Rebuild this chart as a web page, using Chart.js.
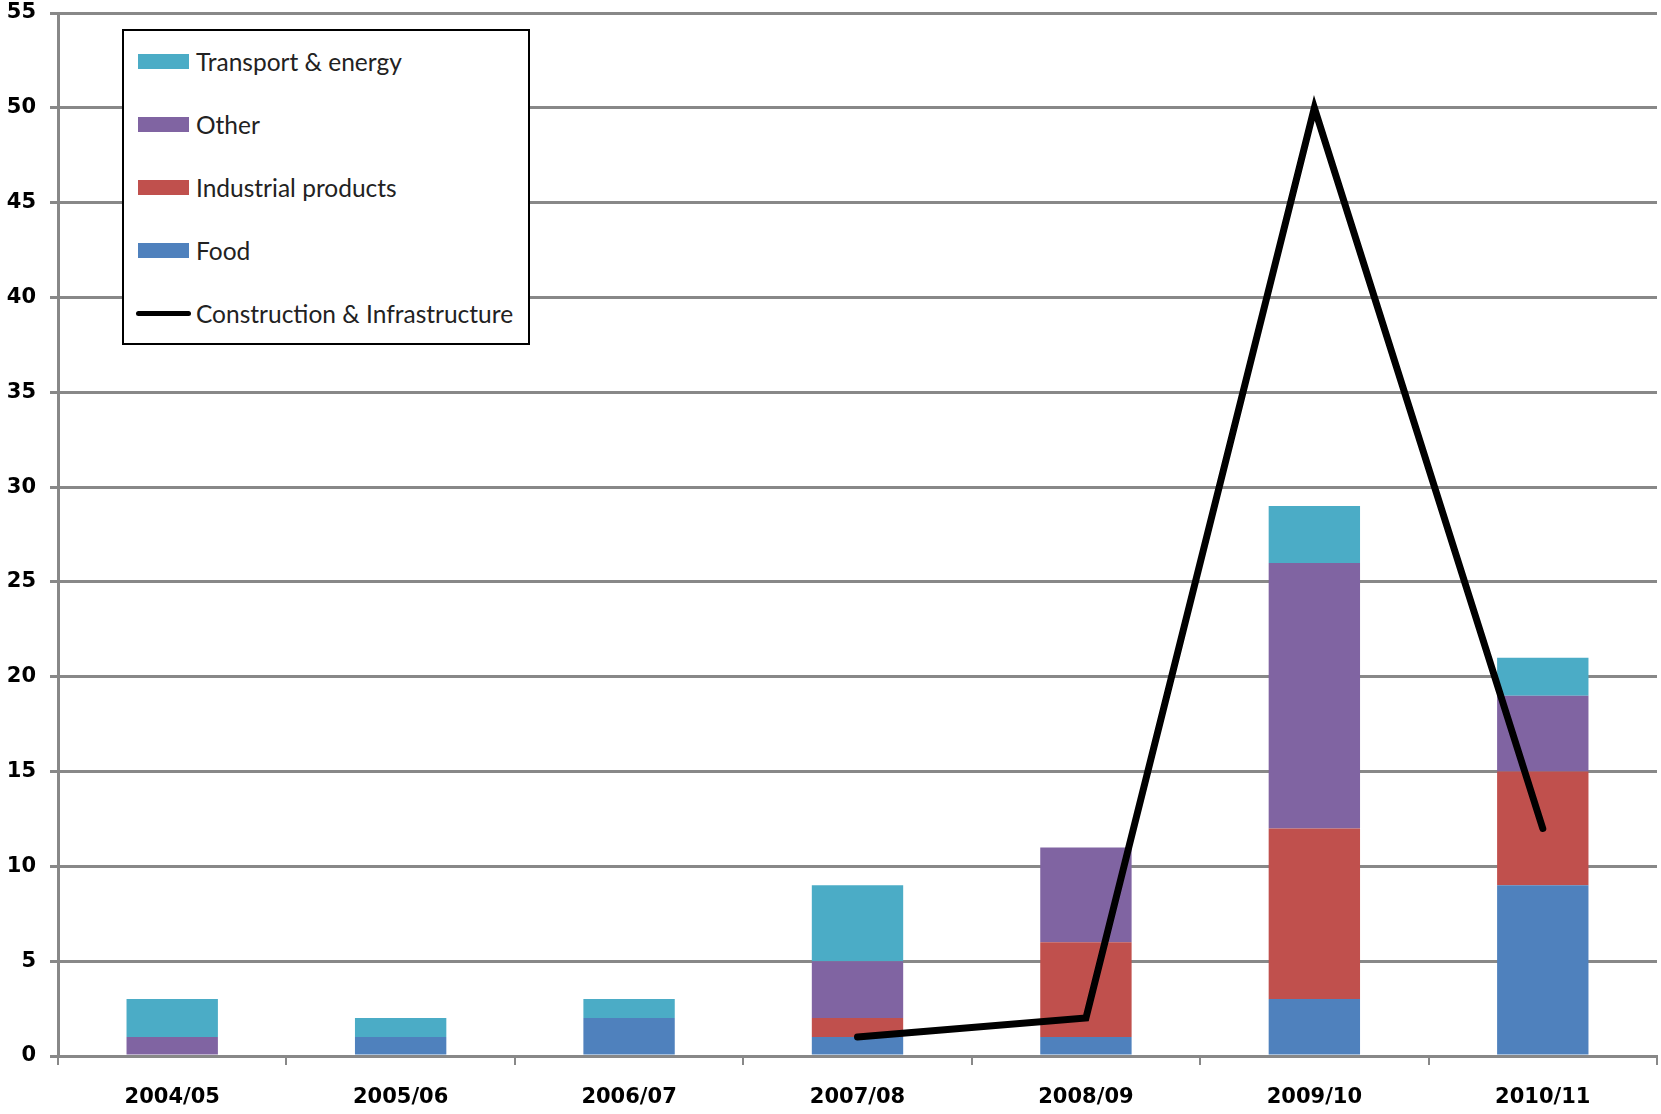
<!DOCTYPE html>
<html>
<head>
<meta charset="utf-8">
<script src="https://cdn.jsdelivr.net/npm/chart.js@4"></script>
<style>
html,body{margin:0;padding:0;background:#fff;}
#wrap{position:relative;width:1661px;height:1114px;}
#legend{position:absolute;left:122px;top:29px;width:404px;height:312px;border:2px solid #000;background:#fff;font-family:Lato, "Open Sans", sans-serif;font-size:24.5px;color:#222;}
.item{position:absolute;left:14px;height:30px;display:flex;align-items:center;white-space:nowrap;}
.sw{width:51px;height:15px;margin-right:7px;}
.ln{width:55px;height:5px;background:#000;border-radius:3px;margin-right:5px;margin-left:-2px;}
</style>
</head>
<body>
<div id="wrap">
<canvas id="c" width="1661" height="1114"></canvas>
<div id="legend"></div>
</div>
<script>
const categories = ["2004/05","2005/06","2006/07","2007/08","2008/09","2009/10","2010/11"];
const food = [0,1,2,1,1,3,9];
const industrial = [0,0,0,1,5,9,6];
const other = [1,0,0,3,5,14,4];
const transport = [2,1,1,4,0,3,2];
const construction = [null,null,null,1,2,50,12];
const yTicks = [0,5,10,15,20,25,30,35,40,45,50,55];

const colors = {food:"#4F81BD", industrial:"#C0504D", other:"#8064A2", transport:"#4BACC6", construction:"#000000"};
const tickFont = {family:"'DejaVu Sans'", size:21, weight:"bold"};

function bar(label, data, color){
  return {type:"bar", label, data, backgroundColor:color, borderWidth:0, stack:"s", order:1,
    barPercentage:0.4, categoryPercentage:1.0};
}

const chart = new Chart(document.getElementById("c"), {
  data:{
    labels:categories,
    datasets:[
      bar("Food", food, colors.food),
      bar("Industrial products", industrial, colors.industrial),
      bar("Other", other, colors.other),
      bar("Transport & energy", transport, colors.transport),
      {type:"line", label:"Construction & Infrastructure", data:construction, borderColor:"#000", borderWidth:7,
       pointRadius:0, stack:"line", order:0, spanGaps:false, borderCapStyle:"round", borderJoinStyle:"miter", tension:0}
    ]
  },
  options:{
    responsive:false, animation:false,
    layout:{padding:{top:0,right:4,left:0,bottom:0}},
    plugins:{legend:{display:false}, tooltip:{enabled:false}},
    scales:{
      x:{stacked:true,
        grid:{drawOnChartArea:false, drawTicks:true, tickLength:9, color:"#888", lineWidth:2, offset:true},
        border:{color:"#888", width:3},
        ticks:{font:tickFont, color:"#000", padding:20},
        afterFit(s){ s.height = 58; }
      },
      y:{stacked:true, min:0, max:55,
        afterBuildTicks(s){ s.ticks = yTicks.map(v=>({value:v})); },
        grid:{color:"#888", lineWidth:3, tickLength:8, drawTicks:true},
        border:{color:"#888", width:3},
        ticks:{font:tickFont, color:"#000", padding:14},
        afterFit(s){ s.width = 58; s.paddingTop = 13; }
      }
    }
  }
});

const legendItems = [
  {label:"Transport & energy", color:colors.transport, kind:"bar"},
  {label:"Other", color:colors.other, kind:"bar"},
  {label:"Industrial products", color:colors.industrial, kind:"bar"},
  {label:"Food", color:colors.food, kind:"bar"},
  {label:"Construction & Infrastructure", color:colors.construction, kind:"line"}
];
const lg = document.getElementById("legend");
legendItems.forEach((it,i)=>{
  const d = document.createElement("div");
  d.className = "item";
  d.style.top = (15 + i*63) + "px";
  const s = document.createElement("span");
  s.className = it.kind==="line" ? "ln" : "sw";
  s.style.background = it.color;
  d.appendChild(s);
  const t = document.createElement("span");
  t.textContent = it.label;
  d.appendChild(t);
  lg.appendChild(d);
});
</script>
</body>
</html>
